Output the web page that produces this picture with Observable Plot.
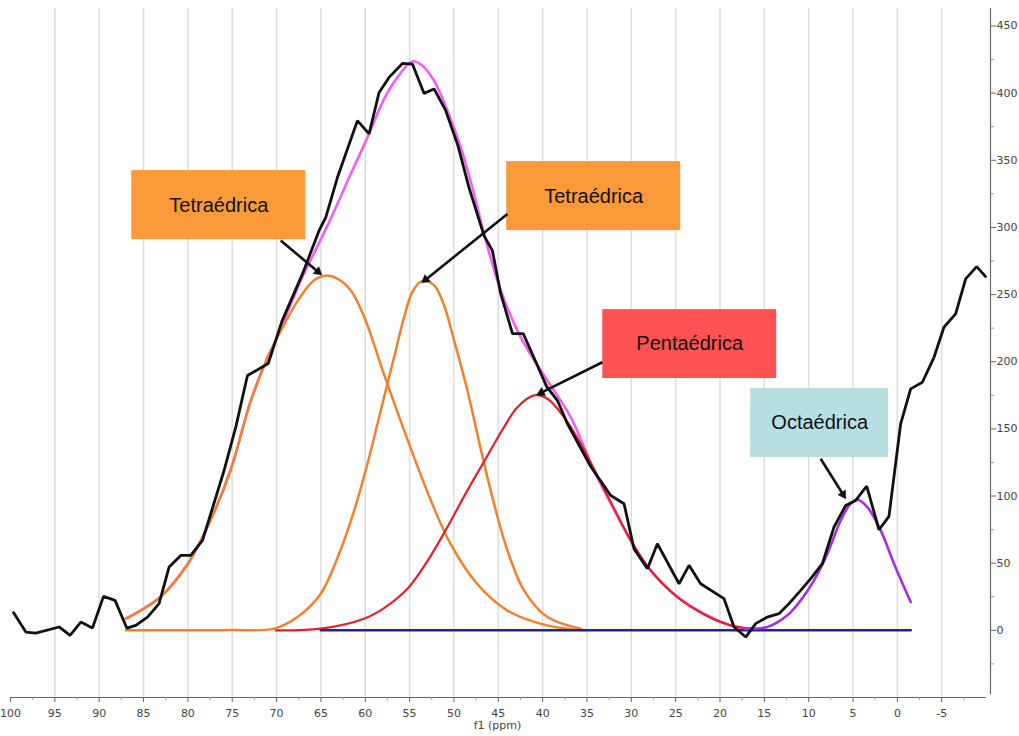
<!DOCTYPE html>
<html><head><meta charset="utf-8">
<script src="https://cdn.jsdelivr.net/npm/d3@7"></script>
<script src="https://cdn.jsdelivr.net/npm/@observablehq/plot@0.6"></script>
<style>body{margin:0;background:#fff}#chart svg{display:block}</style>
</head><body><div id="chart"></div>
<script>
// ---- tick labels ----
const xMajor = [100,95,90,85,80,75,70,65,60,55,50,45,40,35,30,25,20,15,10,5,0,-5];
const xGrid = [95,90,85,80,75,70,65,60,55,50,45,40,35,30,25,20,15,10,5,0,-5];
const xMinor = [97.5,92.5,87.5,82.5,77.5,72.5,67.5,62.5,57.5,52.5,47.5,42.5,37.5,32.5,27.5,22.5,17.5,12.5,7.5,2.5,-2.5,-7.5];
const yMajor = [0,50,100,150,200,250,300,350,400,450];
const yMinor = [-25,25,75,125,175,225,275,325,375,425];

// ---- experimental spectrum [ppm, intensity] ----
const experimental = [
[99.66,13.2],[98.27,-1.3],[97.15,-2.0],[94.52,2.5],[93.28,-3.7],[92.07,6.2],[90.76,1.7],[89.51,25.3],[88.21,22.3],
[86.89,1.7],[85.87,3.7],[84.55,9.9],[83.25,19.9],[82.12,47.1],[80.80,55.8],[79.67,55.8],[78.35,67.0],[77.42,86.8],
[75.92,119.0],[74.60,151.3],[73.28,189.7],[70.94,198.7],[69.41,229.9],[67.08,265.4],[65.21,297.6],[64.45,307.5],
[63.13,337.3],[60.88,379.5],[59.57,369.6],[58.44,400.5],[57.32,411.7],[55.81,422.1],[54.68,421.6],[53.37,399.8],
[52.24,403.1],[50.92,386.9],[49.55,360.9],[48.30,329.6],[46.61,293.9],[45.66,282.7],[44.72,250.5],[43.40,221.0],
[42.19,221.0],[39.54,181.5],[38.33,171.1],[37.20,153.8],[34.58,122.0],[32.32,100.4],[30.82,94.3],[29.70,60.8],
[28.18,45.9],[27.06,64.5],[24.62,34.7],[23.49,48.4],[22.18,34.7],[19.55,23.6],[18.42,2.5],[17.10,-5.0],[15.98,5.0],
[14.66,9.9],[13.35,12.4],[12.22,19.9],[10.90,29.8],[9.77,38.5],[8.46,49.6],[7.15,76.9],[5.83,93.0],[4.70,96.7],
[3.46,107.4],[2.07,74.9],[0.95,84.8],[-0.37,153.8],[-1.50,179.8],[-2.82,184.7],[-4.13,203.3],[-5.25,225.7],
[-6.57,235.6],[-7.70,261.7],[-8.94,270.8],[-9.95,263.4]
];

// ---- total fit ----
const totalFit = [
[87.0,8.7],[85.3,14.9],[83.1,24.8],[80.0,49.6],[77.8,76.9],[75.2,119.0],[72.9,171.1],[71.0,203.3],
[70.09,215.8],[67.27,260.4],[64.26,301.3],[61.63,339.8],[59.75,367.0],[57.88,395.6],[56.37,411.7],[54.68,423.6],
[53.55,420.4],[52.24,409.2],[50.73,386.9],[49.23,359.6],[47.73,324.9],[46.61,295.2],[44.72,253.0],[42.47,218.2],
[39.46,186.0],[36.83,158.7],[34.21,119.0],[32.32,94.5],[29.88,64.5],[27.81,44.6],[24.80,24.8],[21.80,12.4],
[18.79,3.7],[15.4,0.4]
];

// ---- tetrahedral component 1 ----
const tetra1 = [
[87.0,8.7],[85.3,14.9],[83.1,24.8],[80.0,49.6],[77.8,76.9],[75.2,119.0],[72.9,171.1],[71.0,203.3],[69.5,223.2],
[67.6,245.5],[65.8,260.4],[64.5,264.1],[63.1,261.7],[61.6,252.9],[60.1,233.1],[57.9,191.0],[55.2,141.4],[52.6,96.7],
[50.4,64.5],[47.4,34.7],[44.0,14.9],[39.5,3.7],[35.3,0]
];

// ---- tetrahedral component 2 ----
const tetra2 = [
[87.0,0],[80.0,0],[75.0,0.2],[70.28,1.3],[67.64,9.9],[65.02,27.3],[63.13,54.0],[61.26,89.0],[59.75,124.0],
[58.25,163.7],[56.75,203.3],[55.62,233.0],[54.68,252.0],[53.55,260.4],[52.24,257.0],[51.12,242.0],[49.99,216.0],
[48.48,178.6],[46.98,135.0],[45.48,94.3],[43.97,59.5],[42.10,29.8],[39.46,9.9],[35.70,1.3]
];

// ---- pentahedral component ----
const penta = [
[70.09,0],[65.02,1.3],[60.14,8.7],[57.88,16.6],[55.24,31.0],[52.99,51.5],[50.73,76.9],[48.48,104.2],[46.22,130.0],
[44.35,151.3],[42.84,166.1],[40.97,174.9],[39.46,172.4],[37.59,158.7],[35.70,138.9],[33.82,115.0],[32.32,95.5],
[29.88,65.0],[27.81,44.6],[24.80,24.8],[21.80,11.8],[18.79,3.7],[15.4,0.4]
];

// ---- octahedral component ----
const octa = [
[17.29,1.3],[14.66,2.5],[12.40,11.2],[10.90,22.3],[9.40,37.2],[7.89,57.1],[6.39,81.8],[5.27,94.3],[4.51,97.2],
[3.38,91.7],[1.88,74.4],[0.38,49.6],[-1.50,21.1]
];

// ---- baseline span (ppm) ----
const baseline = [[65,0],[-1.5,0]];

// ---- annotations ----
const labels = ["Tetraédrica","Tetraédrica","Pentaédrica","Octaédrica"];
const boxColors = ["#fb9a38","#fb9a38","#ff5353","#b7dfe2"];
const boxLayout = [
  {x1:86.33,x2:66.70,y1:290.9,y2:342.3, ax1:69.53,ay1:290.2, ax2:64.79,ay2:264.1},
  {x1:44.05,x2:24.43,y1:297.6,y2:349.0, ax1:43.97,ay1:310.0, ax2:53.74,ay2:258.2},
  {x1:33.22,x2:13.61,y1:187.5,y2:238.8, ax1:33.26,ay1:199.6, ax2:40.78,ay2:174.9},
  {x1:16.54,x2:0.98, y1:128.7,y2:180.1, ax1:8.65, ay1:127.8, ax2:5.75, ay2:97.2}
];
const annots = boxLayout.map((d,i) => ({...d, label: labels[i], fill: boxColors[i]}));

const toObj = arr => arr.map(([ppm, v]) => ({ppm, v}));
const curve = (arr, stroke, w) => Plot.line(toObj(arr), {x:"ppm", y:"v", stroke, strokeWidth:w, curve:"catmull-rom", strokeLinejoin:"round"});

const options = {
  width: 1019, height: 736,
  marginLeft: 10, marginRight: 29, marginTop: 8, marginBottom: 39,
  style: {fontFamily: "'DejaVu Sans', Tahoma, sans-serif", fontSize: "11px", background: "#fff", color: "#444"},
  x: {domain: [100, -10.5]},
  y: {domain: [-50, 463]},
  color: {type: "identity"}
};

const baseMarks = [
  Plot.ruleX(xGrid, {stroke: "#dddddd", strokeWidth: 1.5}),
  Plot.ruleY([-50], {x1: 100, x2: -10, stroke: "#666", strokeWidth: 1.2}),
  Plot.ruleX([-10.5], {y1: -48, y2: 463, stroke: "#666", strokeWidth: 1.2}),
  Plot.axisX({ticks: xMajor, tickSize: 5, tickPadding: 7, label: null, tickFormat: d => String(d), stroke: "#666"}),
  Plot.axisX({ticks: xMinor, tickSize: 3, label: null, tickFormat: () => "", stroke: "#999"}),
  Plot.axisY({anchor: "right", ticks: yMajor, tickSize: 5, tickPadding: 1, label: null, tickFormat: d => String(d), stroke: "#666"}),
  Plot.axisY({anchor: "right", ticks: yMinor, tickSize: 3, label: null, tickFormat: () => "", stroke: "#999"}),
  Plot.text(["f1 (ppm)"], {frameAnchor: "bottom", dy: 31, dx: -3, fontSize: 11, fill: "#444"}),
  curve(totalFit, "#f45ef4", 2.6),
  curve(tetra1, "#f0812e", 2.5),
  curve(tetra2, "#f0812e", 2.5),
  curve(penta, "#e3202e", 2.2),
  Plot.line(toObj(baseline), {x:"ppm", y:"v", stroke:"#23238f", strokeWidth: 2.5}),
  curve(octa, "#a82ee0", 2.6),
  Plot.line(toObj(experimental), {x:"ppm", y:"v", stroke:"#111", strokeWidth: 2.8, strokeLinejoin:"miter"}),
  Plot.rect(annots, {x1:"x1", x2:"x2", y1:"y1", y2:"y2", fill:"fill"}),
  Plot.text(annots, {x: d => (d.x1 + d.x2) / 2, y: d => (d.y1 + d.y2) / 2, text: "label",
    fontSize: 20, fontFamily: "'Liberation Sans', Arial, sans-serif", fill: "#111"})
];

// first pass: get scales to orient filled arrowheads in screen space
const probe = Plot.plot({...options, marks: baseMarks});
const sx = probe.scale("x"), sy = probe.scale("y");
const heads = annots.map(d => {
  const X1 = sx.apply(d.ax1), Y1 = sy.apply(d.ay1), X2 = sx.apply(d.ax2), Y2 = sy.apply(d.ay2);
  const L = Math.hypot(X2 - X1, Y2 - Y1), ux = (X2 - X1) / L, uy = (Y2 - Y1) / L;
  const back = 6.2;
  const cx = X2 - ux * back, cy = Y2 - uy * back;
  return {sx: d.ax1, sy: d.ay1, hx: sx.invert(cx), hy: sy.invert(cy), rot: Math.atan2(ux, -uy) * 180 / Math.PI};
});

const chart = Plot.plot({...options, marks: [
  ...baseMarks,
  Plot.link(heads, {x1: "sx", y1: "sy", x2: "hx", y2: "hy", stroke: "#111", strokeWidth: 2.6}),
  Plot.dot(heads, {x: "hx", y: "hy", symbol: "triangle2", r: 4.2, rotate: "rot", fill: "#111", stroke: "#111", strokeWidth: 0.5})
]});
document.getElementById("chart").appendChild(chart);
</script></body></html>
